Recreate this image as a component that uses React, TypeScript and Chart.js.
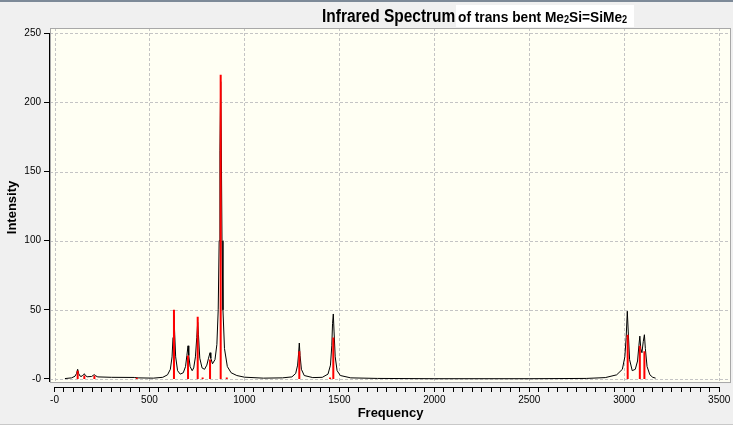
import { useEffect, useRef } from "react";
import { Chart, registerables } from "chart.js";

Chart.register(...registerables);

// broadened spectrum (black line)
const spectrumFreq = [
  55, 90, 108, 116, 122, 127, 135, 145, 152, 157, 162, 172, 195, 204, 210, 215, 228, 300, 420, 440,
  520, 570, 595, 610, 619, 624, 629, 633, 638, 648, 662, 678, 690, 697, 703, 707, 714, 725, 733, 742,
  749, 754, 758, 765, 777, 790, 802, 811, 819, 823, 832, 845, 855, 862, 867, 871, 875, 878, 882, 887,
  895, 910, 930, 960, 1000, 1100, 1200, 1250, 1270, 1280, 1285, 1289, 1293, 1300, 1315, 1360, 1410,
  1440, 1453, 1460, 1464, 1468, 1472, 1478, 1488, 1505, 1560, 1700, 2000, 2500, 2800, 2900, 2960,
  2990, 3003, 3010, 3016, 3021, 3028, 3042, 3058, 3070, 3077, 3082, 3087, 3093, 3100, 3106, 3111,
  3120, 3135, 3150, 3165,
];
const spectrumInt = [
  0.3, 0.8, 2, 4, 7, 4, 2, 2, 3, 3.8, 2.6, 1.6, 1.8, 2.6, 3.2, 2.4, 1.5, 1.2, 1.1, 0.8,
  0.6, 1.2, 3, 7, 16, 30, 46, 32, 16, 6, 3.5, 4.5, 9, 17, 24, 17, 9, 6, 8, 16,
  30, 41, 32, 15, 8, 7, 10, 15, 19, 15, 11, 14, 25, 50, 100, 165, 215, 175, 100, 50,
  22, 9, 4.5, 2.5, 1.3, 0.6, 0.8, 1.5, 4, 10, 18, 26, 17, 7, 2.5, 1, 1.2,
  3.5, 10, 24, 40, 47, 34, 16, 6, 2.5, 0.8, 0.4, 0.2, 0.2, 0.4, 1, 3,
  7, 16, 30, 49, 34, 14, 6, 7, 13, 24, 31, 22, 19, 27, 32, 22,
  9, 3, 1.2, 0.6,
];

// computed modes (red sticks)
const stickFreq = [122, 157, 210, 433, 629, 703, 754, 780, 819, 875, 907, 1289, 1451, 1468, 3018, 3082, 3106];
const stickInt = [6, 2.5, 2.5, 0.8, 50, 17, 45, 1, 14, 220, 1, 20, 1, 30, 32, 24, 20];

const xGrid = [0, 500, 1000, 1500, 2000, 2500, 3000, 3500];
const yGrid = [0, 50, 100, 150, 200, 250];

const PANEL = "#f0f0f0";
const PLOT_BG = "#fffff3";
const FONT = "'Liberation Sans', Arial, sans-serif";

const framePlugin = {
  id: "frame",
  beforeDraw(chart: any) {
    const { ctx, chartArea: a, scales } = chart;
    const x = scales.x;
    const y = scales.y;
    const bottom = y.getPixelForValue(-2.2);
    ctx.save();
    ctx.fillStyle = PLOT_BG;
    ctx.fillRect(a.left, a.top, a.right - a.left, bottom - a.top);
    ctx.strokeStyle = "#c4c4c4";
    ctx.lineWidth = 1;
    ctx.setLineDash([3, 2]);
    for (const v of xGrid) {
      const px = Math.round(x.getPixelForValue(v)) + 0.5;
      ctx.beginPath();
      ctx.moveTo(px, a.top);
      ctx.lineTo(px, bottom);
      ctx.stroke();
    }
    for (const v of yGrid) {
      const py = Math.round(y.getPixelForValue(v)) + 0.5;
      ctx.beginPath();
      ctx.moveTo(a.left, py);
      ctx.lineTo(a.right, py);
      ctx.stroke();
    }
    ctx.restore();
  },
  afterDraw(chart: any) {
    const { ctx, chartArea: a, scales } = chart;
    const x = scales.x;
    const y = scales.y;
    const bottom = y.getPixelForValue(-2.2);
    ctx.save();
    ctx.strokeStyle = "#a8a8a8";
    ctx.lineWidth = 1;
    ctx.strokeRect(a.left + 0.5, a.top + 0.5, a.right - a.left - 1, bottom - a.top);
    ctx.strokeStyle = "#000";
    ctx.beginPath();
    ctx.moveTo(a.left - 0.5, y.getPixelForValue(250));
    ctx.lineTo(a.left - 0.5, bottom);
    ctx.stroke();
    ctx.beginPath();
    ctx.moveTo(x.getPixelForValue(0), a.bottom + 0.5);
    ctx.lineTo(x.getPixelForValue(3500), a.bottom + 0.5);
    ctx.stroke();
    ctx.restore();
  },
};

export default function App() {
  const canvasRef = useRef<HTMLCanvasElement>(null);
  const chartRef = useRef<Chart | null>(null);

  useEffect(() => {
    const canvas = canvasRef.current;
    if (!canvas) return;

    const curve = spectrumFreq.map((f, i) => ({ x: f, y: spectrumInt[i] }));
    const sticks = stickFreq.flatMap((f, i) => [
      { x: f, y: 0 },
      { x: f, y: stickInt[i] },
      { x: f, y: null },
    ]);

    if (chartRef.current) chartRef.current.destroy();

    chartRef.current = new Chart(canvas, {
      type: "scatter",
      data: {
        datasets: [
          {
            label: "modes",
            data: sticks as any,
            showLine: true,
            spanGaps: false,
            borderColor: "#ff0000",
            borderWidth: 2,
            pointRadius: 0,
            order: 0,
          },
          {
            label: "spectrum",
            data: curve,
            showLine: true,
            borderColor: "#000000",
            borderWidth: 1,
            pointRadius: 0,
            tension: 0,
            order: 1,
          },
        ],
      },
      options: {
        animation: false,
        responsive: false,
        devicePixelRatio: 1,
        layout: { padding: { top: 28, right: 2, left: 0, bottom: 0 } },
        plugins: {
          legend: { display: false },
          title: { display: false },
          tooltip: { enabled: false },
        },
        scales: {
          x: {
            type: "linear",
            min: -23.7,
            max: 3562,
            border: { display: false },
            grid: { drawOnChartArea: false, tickLength: 5, tickColor: "#000" },
            title: {
              display: true,
              text: "Frequency",
              color: "#000",
              font: { family: FONT, size: 13, weight: "bold" },
              padding: { top: 0, bottom: 4 },
            },
            ticks: {
              stepSize: 50,
              autoSkip: false,
              maxRotation: 0,
              includeBounds: false,
              padding: 2,
              color: "#000",
              font: { family: FONT, size: 10 },
              callback: (v: any) => (v === 0 ? "-0" : v % 500 === 0 ? String(v) : ""),
            },
            afterBuildTicks: (s: any) => {
              s.ticks = s.ticks.filter((t: any) => t.value >= 0 && t.value <= 3500);
            },
            afterFit: (s: any) => {
              s.height = 38;
            },
          },
          y: {
            type: "linear",
            min: -5.8,
            max: 253.8,
            border: { display: false },
            grid: { drawOnChartArea: false, tickLength: 6, tickColor: "#000" },
            title: {
              display: true,
              text: "Intensity",
              color: "#000",
              font: { family: FONT, size: 13, weight: "bold" },
              padding: { top: 5, bottom: 0 },
            },
            ticks: {
              stepSize: 50,
              includeBounds: false,
              padding: 3,
              color: "#000",
              font: { family: FONT, size: 10 },
              callback: (v: any) => (v === 0 ? "-0" : String(v)),
            },
            afterBuildTicks: (s: any) => {
              s.ticks = s.ticks.filter((t: any) => t.value >= 0 && t.value <= 250);
            },
            afterFit: (s: any) => {
              s.width = 50;
            },
          },
        },
      },
      plugins: [framePlugin],
    });

    return () => {
      chartRef.current?.destroy();
      chartRef.current = null;
    };
  }, []);

  const sub = { fontSize: 10, verticalAlign: "-1px" } as const;

  return (
    <div
      style={{
        position: "fixed",
        left: 0,
        top: 0,
        width: 733,
        height: 425,
        background: PANEL,
        overflow: "hidden",
      }}
    >
      <div style={{ position: "absolute", left: 0, top: 0, width: 733, height: 2, background: "#7d8a98" }} />
      <div style={{ position: "absolute", left: 0, bottom: 0, width: 733, height: 1, background: "#c8c8c8" }} />
      <canvas
        ref={canvasRef}
        width={733}
        height={425}
        style={{ position: "absolute", left: 0, top: 0, width: 733, height: 425 }}
        aria-label="Infrared Spectrum of trans bent Me2Si=SiMe2"
      />
      <div
        style={{
          position: "absolute",
          left: 456,
          top: 5,
          width: 178,
          height: 22,
          background: "#fff",
        }}
      />
      <div
        style={{
          position: "absolute",
          left: 322,
          top: 6,
          whiteSpace: "nowrap",
          fontFamily: FONT,
          fontWeight: "bold",
          fontSize: 18,
          lineHeight: "20px",
          color: "#000",
          transform: "scaleX(0.86)",
          transformOrigin: "left top",
        }}
      >
        Infrared Spectrum
      </div>
      <div
        style={{
          position: "absolute",
          left: 458,
          top: 8,
          whiteSpace: "nowrap",
          fontFamily: FONT,
          fontWeight: "bold",
          fontSize: 15,
          lineHeight: "18px",
          color: "#000",
          transform: "scaleX(0.915)",
          transformOrigin: "left top",
        }}
      >
        of trans bent Me<sub style={sub}>2</sub>Si=SiMe<sub style={sub}>2</sub>
      </div>
    </div>
  );
}
